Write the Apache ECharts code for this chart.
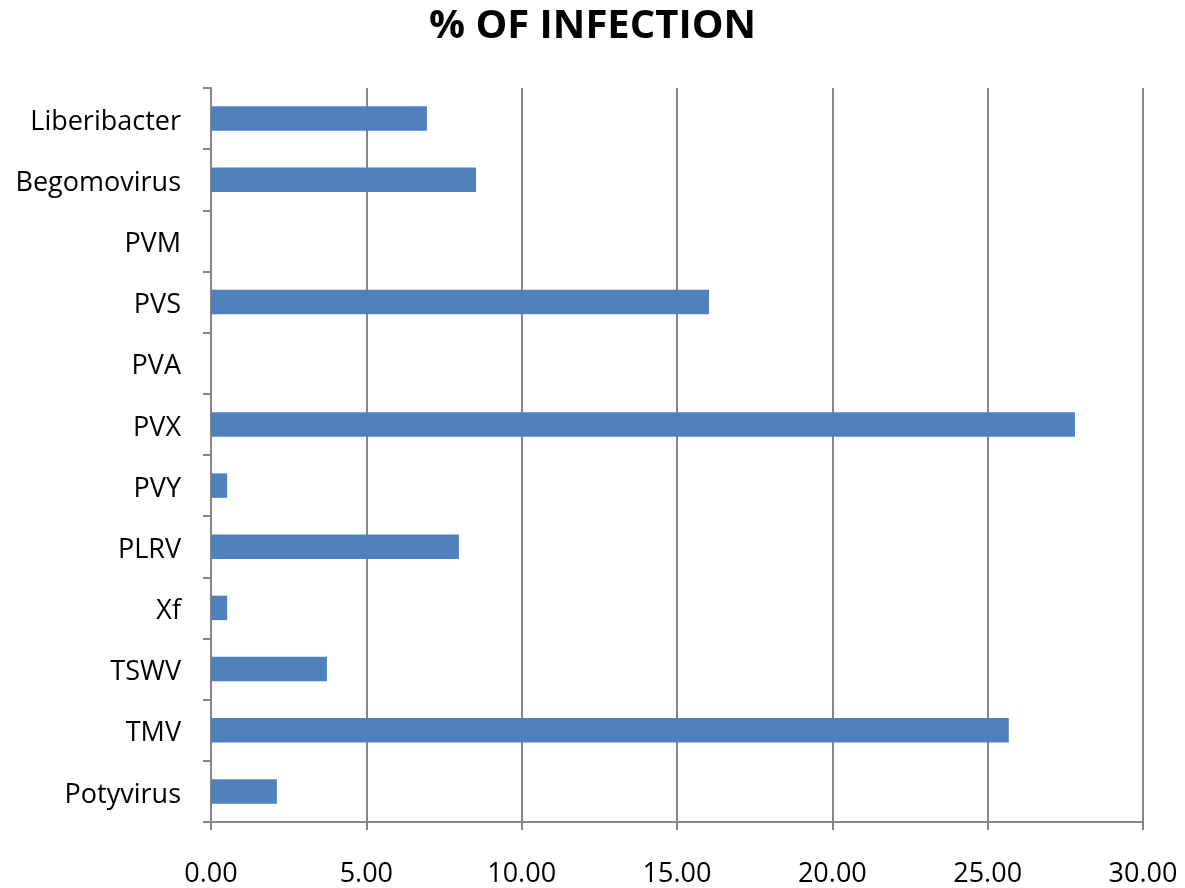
<!DOCTYPE html>
<html><head><meta charset="utf-8">
<script src="https://cdn.jsdelivr.net/npm/echarts@6/dist/echarts.min.js"></script>
<style>html,body{margin:0;padding:0;background:#fff}#c{width:1185px;height:888px}</style>
</head><body><div id="c"></div>
<script>
const categories = ['Potyvirus','TMV','TSWV','Xf','PLRV','PVY','PVX','PVA','PVS','PVM','Begomovirus','Liberibacter'];
const infection = [2.12, 25.68, 3.73, 0.52, 7.98, 0.52, 27.81, 0, 16.03, 0, 8.53, 6.95];
const xTicks = {min: 0, max: 30, interval: 5};

const chart = echarts.init(document.getElementById('c'));
chart.setOption({
  animation: false,
  title: {text: '% OF INFECTION', left: 'center', top: 2,
    textStyle: {fontFamily: 'Open Sans', fontWeight: 'bold', fontSize: 40, color: '#000'}},
  grid: {left: 211, right: 42, top: 88, bottom: 66, containLabel: false, outerBoundsMode: 'none'},
  xAxis: {type: 'value', min: xTicks.min, max: xTicks.max, interval: xTicks.interval,
    axisLine: {show: true, lineStyle: {color: '#868686', width: 2}},
    axisTick: {show: true, length: 8, lineStyle: {color: '#868686', width: 2}},
    axisLabel: {formatter: v => '{a|' + v.toFixed(2) + '}', color: '#000', margin: 22,
      rich: {a: {fontFamily: 'Open Sans', fontSize: 27, color: '#000', lineHeight: 44, verticalAlign: 'bottom'}}},
    splitLine: {show: true, lineStyle: {color: '#868686', width: 2}}},
  yAxis: {type: 'category', data: categories,
    axisLine: {show: true, lineStyle: {color: '#868686', width: 2}},
    axisTick: {show: true, length: 8, lineStyle: {color: '#868686', width: 2}},
    axisLabel: {formatter: v => '{a|' + v + '}', color: '#000', margin: 30,
      rich: {a: {fontFamily: 'Open Sans', fontSize: 27, color: '#000', lineHeight: 34, verticalAlign: 'bottom'}}}},
  series: [{type: 'bar', data: infection, barWidth: '40%',
    itemStyle: {color: '#4F81BD'}}]
});
</script></body></html>
